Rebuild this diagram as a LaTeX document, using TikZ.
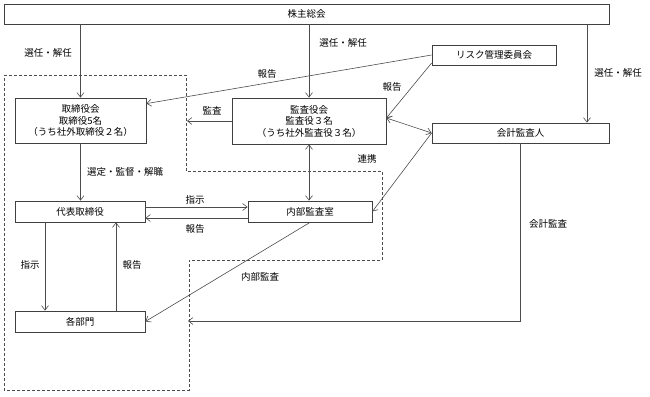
\documentclass[tikz,border=0pt]{standalone}
\usepackage{fontspec}
\setmainfont{Noto Sans CJK JP}
\usetikzlibrary{arrows.meta}
\begin{document}
\begin{tikzpicture}[x=1pt,y=-1pt,>={Straight Barb[length=4.5pt,width=7pt]},
  every node/.style={font=\fontsize{9.5}{11.5}\selectfont,text=black,inner sep=0pt},
  box/.style={draw=black!75,line width=0.8pt,align=center,minimum height=20pt},
  arr/.style={->,draw=black!70,line width=0.6pt},
  both/.style={<->,draw=black!70,line width=0.6pt},
  grp/.style={draw=black!70,line width=0.6pt,dash pattern=on 3pt off 2pt}]
\useasboundingbox (0,0) rectangle (650,396);
% company boundary
\draw[grp] (4,75)--(186,75)--(186,171)--(382,171)--(382,260)--(189,260)--(189,390)--(4,390)--cycle;
% boxes
\node[box,minimum width=605pt] (share) at (306.5,14) {株主総会};
\node[box,minimum width=124pt] (risk) at (494,55) {リスク管理委員会};
\node[box,minimum width=131pt,minimum height=45pt] (board) at (80.5,120.5) {取締役会\\取締役5名\\（うち社外取締役２名）};
\node[box,minimum width=154pt,minimum height=46pt] (kansa) at (309,121) {監査役会\\監査役３名\\（うち社外監査役３名）};
\node[box,minimum width=177pt] (auditor) at (520.5,133) {会計監査人};
\node[box,minimum width=130pt,minimum height=21pt] (ceo) at (80,211.5) {代表取締役};
\node[box,minimum width=124pt,minimum height=21pt] (naibu) at (310,211.5) {内部監査室};
\node[box,minimum width=130pt,minimum height=21pt] (dept) at (80,321.5) {各部門};
\coordinate (audin) at (187,121);
\coordinate (kaikei) at (188,321);
% arrows
\draw[arr] (share.south -| board.north) -- (board.north);
\draw[arr] (share.south -| kansa.north) -- (kansa.north);
\draw[arr] ([xshift=66.5pt]share.south -| auditor.north) -- ([xshift=66.5pt]auditor.north);
\draw[arr] (risk.west) -- ([yshift=-6pt]board.north east);
\draw[arr] ([yshift=-8pt]risk.west) -- ([yshift=3pt]kansa.east);
\draw[both] ([yshift=3pt]kansa.east) -- (auditor.west);
\draw[arr] (kansa.west) -- (audin);
\draw[arr] (board.south) -- (board.south |- ceo.north);
\draw[both] (kansa.south) -- (kansa.south |- naibu.north);
\draw[arr] (auditor.west) -- (naibu.east);
\draw[arr] ([yshift=4.5pt]ceo.east) -- ([yshift=4.5pt]ceo.east -| naibu.west);
\draw[arr] ([yshift=-6.5pt]naibu.west) -- ([yshift=-6.5pt]naibu.west -| ceo.east);
\draw[arr] ([xshift=-35pt]ceo.south) -- ([xshift=-35pt]dept.north);
\draw[arr] ([xshift=36pt]dept.north) -- ([xshift=36pt]ceo.south);
\draw[arr] (naibu.south) -- (dept.east);
\draw[arr] (auditor.south) |- (kaikei);
% labels
\node (l1) at (48,53) {選任・解任};
\node (l2) at (343,43) {選任・解任};
\node (l3) at (618,73) {選任・解任};
\node (l4) at (267,74) {報告};
\node (l5) at (392,87) {報告};
\node (l6) at (212,111) {監査};
\node (l7) at (125,172) {選定・監督・解職};
\node (l8) at (367,159) {連携};
\node (l9) at (195,200) {指示};
\node (l10) at (195,229) {報告};
\node (l11) at (30,265) {指示};
\node (l12) at (132,265) {報告};
\node (l13) at (260,277) {内部監査};
\node (l14) at (548,224) {会計監査};
\end{tikzpicture}
\end{document}
